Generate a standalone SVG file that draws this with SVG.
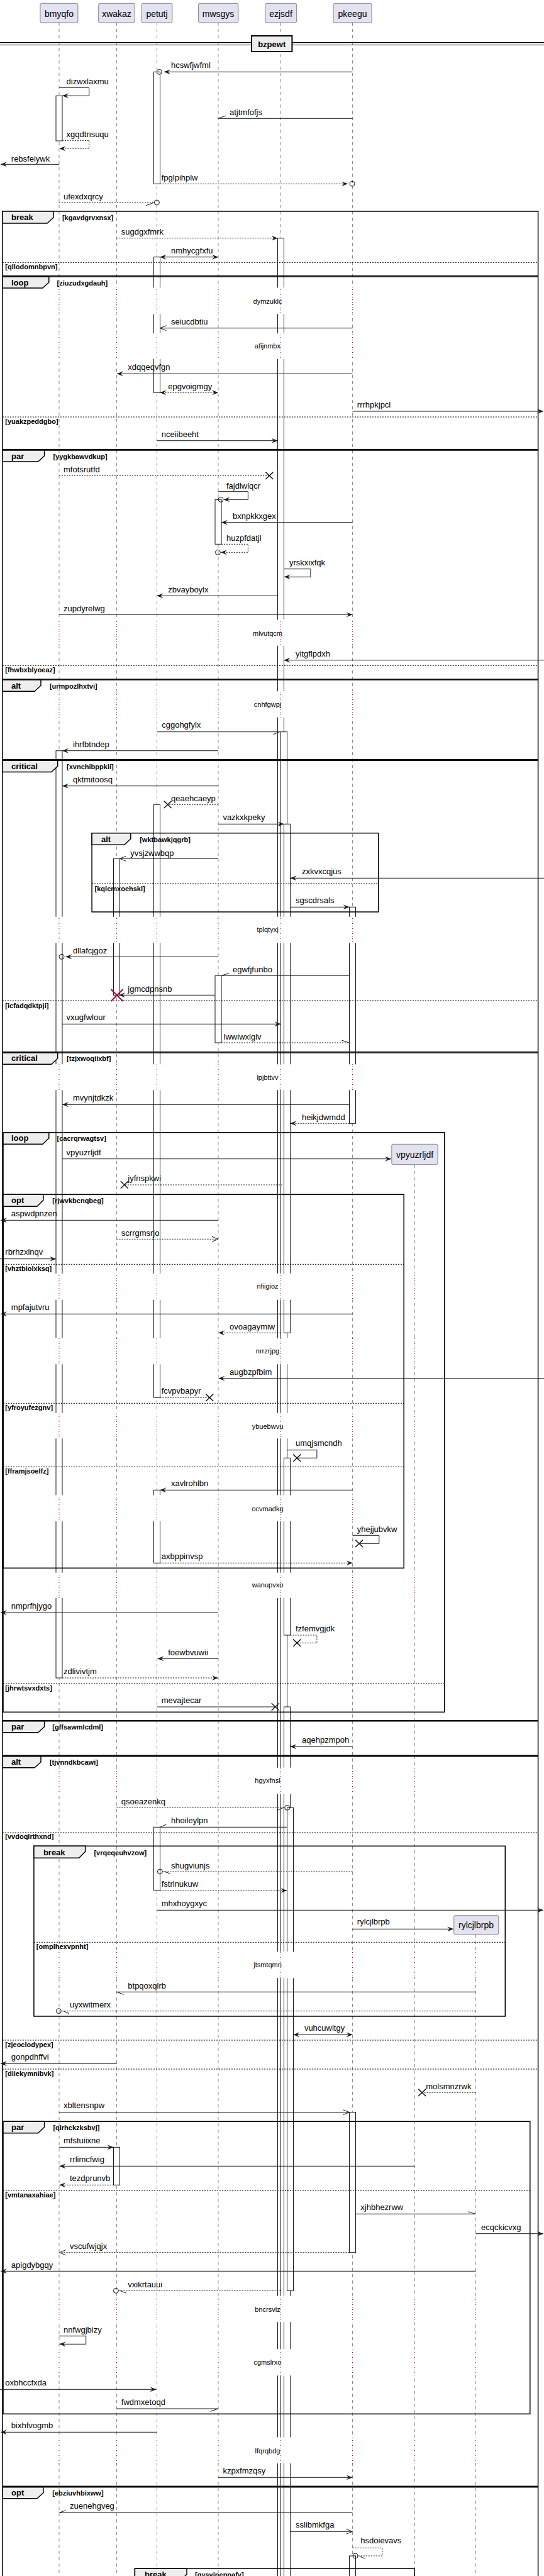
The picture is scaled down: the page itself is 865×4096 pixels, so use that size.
<svg xmlns="http://www.w3.org/2000/svg" width="865" height="4096" viewBox="0 0 865 4096">
<defs>
<style>
.ll{stroke:#181818;stroke-width:0.5;stroke-dasharray:5,5;fill:none}
.dl{stroke:#A80036;stroke-width:1;stroke-dasharray:1,3;fill:none}
.act{fill:#fff;stroke:#181818;stroke-width:1}
.m{stroke:#181818;stroke-width:1;fill:none}
.d{stroke-dasharray:2,2}
.c{fill:none;stroke:#181818;stroke-width:1}
.t{font-family:"Liberation Sans",Arial,sans-serif;font-size:13px;fill:#000}
.pt{font-family:"Liberation Sans",Arial,sans-serif;font-size:14px;fill:#000;text-anchor:middle}
.dt{font-family:"Liberation Sans",Arial,sans-serif;font-size:11px;fill:#000;text-anchor:middle}
.g{font-family:"Liberation Sans",Arial,sans-serif;font-size:11px;font-weight:bold;fill:#000}
.tl{font-family:"Liberation Sans",Arial,sans-serif;font-size:13px;font-weight:bold;fill:#000}
.fr{fill:none;stroke:#000;stroke-width:1.5}
.tab{fill:#EEEEEE;stroke:#000;stroke-width:1.5}
.el{stroke:#000;stroke-width:1;stroke-dasharray:2,2}
.pb{fill:#E2E2F0;stroke:#181818;stroke-width:0.5}
</style>
<marker id="af" viewBox="0 0 10 8" refX="10" refY="4" markerWidth="10" markerHeight="8" markerUnits="userSpaceOnUse" orient="auto-start-reverse"><path d="M0,0 L10,4 L0,8 L4,4 Z" fill="#181818"/></marker>
<marker id="ao" viewBox="-1 -1 12 10" refX="10" refY="4" markerWidth="12" markerHeight="10" markerUnits="userSpaceOnUse" orient="auto"><path d="M0,0 L10,4 L0,8" fill="none" stroke="#181818" stroke-width="1"/></marker>
<path id="xm" d="M-6,-5.7L6,5.7M-6,5.7L6,-5.7" stroke="#181818" stroke-width="1.5" fill="none"/>
<clipPath id="bands">
<rect x="0" y="457.3" width="865" height="42"/>
<rect x="0" y="530" width="865" height="41"/>
<rect x="0" y="985.3" width="865" height="41.4"/>
<rect x="0" y="1099.3" width="865" height="41.4"/>
<rect x="0" y="1457.7" width="865" height="41.6"/>
<rect x="0" y="1692.3" width="865" height="41"/>
<rect x="0" y="2025" width="865" height="41.7"/>
<rect x="0" y="2127.7" width="865" height="41.6"/>
<rect x="0" y="2246.7" width="865" height="40.6"/>
<rect x="0" y="2377.3" width="865" height="41.7"/>
<rect x="0" y="2500.7" width="865" height="40.3"/>
<rect x="0" y="2810.7" width="865" height="41.6"/>
<rect x="0" y="3103.3" width="865" height="42"/>
<rect x="0" y="3650.7" width="865" height="41.6"/>
<rect x="0" y="3735" width="865" height="42.3"/>
<rect x="0" y="3875.3" width="865" height="41.7"/>
</clipPath>
</defs>

<g id="lifelines" class="ll">
<line x1="94" y1="36" x2="94" y2="4096"/>
<line x1="185.5" y1="36" x2="185.5" y2="4096"/>
<line x1="249.5" y1="36" x2="249.5" y2="4096"/>
<line x1="347" y1="36" x2="347" y2="4096"/>
<line x1="446.5" y1="36" x2="446.5" y2="4096"/>
<line x1="560.5" y1="36" x2="560.5" y2="4096"/>
<line x1="659.5" y1="1852" x2="659.5" y2="4096"/>
<line x1="756.5" y1="3076" x2="756.5" y2="4096"/>
</g>

<g id="activations" class="act">
<rect x="89" y="152.3" width="10" height="71.7"/>
<rect x="89" y="1193.7" width="10" height="1474.3"/>
<rect x="180.5" y="1365.3" width="10" height="217"/>
<rect x="180.5" y="3414.3" width="10" height="60"/>
<rect x="244.5" y="114.3" width="10" height="178"/>
<rect x="244.5" y="408.7" width="10" height="215.6"/>
<rect x="244.5" y="1279.3" width="10" height="943"/>
<rect x="244.5" y="2369.3" width="10" height="116"/>
<rect x="244.5" y="2905.3" width="10" height="100.7"/>
<rect x="342" y="794.3" width="10" height="71"/>
<rect x="342" y="1551.3" width="10" height="106.7"/>
<rect x="441.5" y="378.7" width="10" height="3730"/>
<rect x="446.5" y="1163.7" width="10" height="2945"/>
<rect x="451.5" y="1310.3" width="10" height="809"/>
<rect x="451.5" y="2318.3" width="10" height="281.7"/>
<rect x="451.5" y="2714" width="10" height="1395"/>
<rect x="456.5" y="2874.3" width="10" height="768"/>
<rect x="555.5" y="1442.3" width="10" height="344"/>
<rect x="555.5" y="3358.7" width="10" height="223"/>
<rect x="555.5" y="4064" width="10" height="45"/>
</g>

<g id="delay-bands" fill="#fff">
<rect x="0" y="457.3" width="865" height="42"/>
<rect x="0" y="530" width="865" height="41"/>
<rect x="0" y="985.3" width="865" height="41.4"/>
<rect x="0" y="1099.3" width="865" height="41.4"/>
<rect x="0" y="1457.7" width="865" height="41.6"/>
<rect x="0" y="1692.3" width="865" height="41"/>
<rect x="0" y="2025" width="865" height="41.7"/>
<rect x="0" y="2127.7" width="865" height="41.6"/>
<rect x="0" y="2246.7" width="865" height="40.6"/>
<rect x="0" y="2377.3" width="865" height="41.7"/>
<rect x="0" y="2500.7" width="865" height="40.3"/>
<rect x="0" y="2810.7" width="865" height="41.6"/>
<rect x="0" y="3103.3" width="865" height="42"/>
<rect x="0" y="3650.7" width="865" height="41.6"/>
<rect x="0" y="3735" width="865" height="42.3"/>
<rect x="0" y="3875.3" width="865" height="41.7"/>
</g>
<g id="delay-lifelines" class="dl" clip-path="url(#bands)">
<line x1="94" y1="36" x2="94" y2="4096"/>
<line x1="185.5" y1="36" x2="185.5" y2="4096"/>
<line x1="249.5" y1="36" x2="249.5" y2="4096"/>
<line x1="347" y1="36" x2="347" y2="4096"/>
<line x1="446.5" y1="36" x2="446.5" y2="4096"/>
<line x1="560.5" y1="36" x2="560.5" y2="4096"/>
<line x1="659.5" y1="1852" x2="659.5" y2="4096"/>
<line x1="756.5" y1="3076" x2="756.5" y2="4096"/>
</g>

<g id="frames">
<g id="f-break1">
<rect class="fr" x="3.9" y="336" width="851.7" height="102.7"/>
<path class="tab" d="M3.9,336H85V346L75,355H3.9Z"/>
<text class="tl" x="18" y="350">break</text>
<text class="g" x="98.9" y="350">[kgavdgrvxnsx]</text>
<line class="el" x1="3.9" y1="417.3" x2="855.6" y2="417.3"/>
<text class="g" x="8.3" y="428.3">[qllodomnbpvn]</text>
</g>
<g id="f-loop1">
<rect class="fr" x="3.9" y="440" width="851.7" height="274.7"/>
<path class="tab" d="M3.9,440H77.8V449L67.8,458H3.9Z"/>
<text class="tl" x="18" y="453.5">loop</text>
<text class="g" x="90.6" y="453.5">[ziuzudxgdauh]</text>
<line class="el" x1="3.9" y1="663" x2="855.6" y2="663"/>
<text class="g" x="8.3" y="674">[yuakzpeddgbo]</text>
</g>
<g id="f-par1">
<rect class="fr" x="3.9" y="716" width="851.7" height="364"/>
<path class="tab" d="M3.9,716H70.6V725L60.6,734H3.9Z"/>
<text class="tl" x="18" y="729.5">par</text>
<text class="g" x="84.4" y="729.5">[yygkbawvdkup]</text>
<line class="el" x1="3.9" y1="1058.3" x2="855.6" y2="1058.3"/>
<text class="g" x="8.3" y="1069.3">[fhwbxblyoeaz]</text>
</g>
<g id="f-alt1">
<rect class="fr" x="3.9" y="1081" width="851.7" height="126.7"/>
<path class="tab" d="M3.9,1081H65V1090L55,1099.3H3.9Z"/>
<text class="tl" x="18" y="1094.5">alt</text>
<text class="g" x="78.9" y="1094.5">[urmpozlhxtvi]</text>
</g>
<g id="f-critical1">
<rect class="fr" x="3.9" y="1209.3" width="851.7" height="463.4"/>
<path class="tab" d="M3.9,1209.3H91.7V1218.3L81.7,1227.5H3.9Z"/>
<text class="tl" x="18" y="1222.5">critical</text>
<text class="g" x="106.1" y="1222.5">[xvnchibppkii]</text>
<line class="el" x1="3.9" y1="1591" x2="855.6" y2="1591"/>
<text class="g" x="8.3" y="1602.7">[icfadqdktpji]</text>
</g>
<g id="f-alt2">
<rect class="fr" x="146.1" y="1324.7" width="455.6" height="125.3"/>
<path class="tab" d="M146.1,1324.7H207.8V1333.7L197.8,1343.3H146.1Z"/>
<text class="tl" x="161" y="1338.5">alt</text>
<text class="g" x="222.2" y="1338.5">[wktbawkjqgrb]</text>
<line class="el" x1="146.1" y1="1405" x2="601.7" y2="1405"/>
<text class="g" x="150.6" y="1416.7">[kqlcmxoehskl]</text>
</g>
<g id="f-critical2">
<rect class="fr" x="3.9" y="1674" width="851.7" height="1061.7"/>
<path class="tab" d="M3.9,1674H91.7V1683L81.7,1692.3H3.9Z"/>
<text class="tl" x="18" y="1687">critical</text>
<text class="g" x="106.1" y="1687">[tzjxwoqiixbf]</text>
</g>
<g id="f-loop2">
<rect class="fr" x="5" y="1800.7" width="701.7" height="921.6"/>
<path class="tab" d="M5,1800.7H77.8V1809.7L67.8,1819.3H5Z"/>
<text class="tl" x="18" y="1814.3">loop</text>
<text class="g" x="90.6" y="1814.3">[cacrqrwagtsv]</text>
<line class="el" x1="5" y1="2677" x2="706.7" y2="2677"/>
<text class="g" x="8.3" y="2688.3">[jhrwtsvxdxts]</text>
</g>
<g id="f-opt1">
<rect class="fr" x="5" y="1899.3" width="637.2" height="594"/>
<path class="tab" d="M5,1899.3H68.9V1908.3L58.9,1918.3H5Z"/>
<text class="tl" x="18" y="1913">opt</text>
<text class="g" x="83.3" y="1913">[rjwvkbcnqbeg]</text>
<line class="el" x1="5" y1="2010.3" x2="642.2" y2="2010.3"/>
<text class="g" x="8.3" y="2021">[vhztbiolxksq]</text>
<line class="el" x1="5" y1="2231.3" x2="642.2" y2="2231.3"/>
<text class="g" x="8.3" y="2242.3">[yfroyufezgnv]</text>
<line class="el" x1="5" y1="2332.3" x2="642.2" y2="2332.3"/>
<text class="g" x="8.3" y="2343.3">[fframjsoelfz]</text>
</g>
<g id="f-par2">
<rect class="fr" x="3.9" y="2736.7" width="851.7" height="54.6"/>
<path class="tab" d="M3.9,2736.7H70.6V2745.7L60.6,2754.7H3.9Z"/>
<text class="tl" x="18" y="2750">par</text>
<text class="g" x="83.3" y="2750">[gffsawmlcdml]</text>
</g>
<g id="f-alt3">
<rect class="fr" x="3.9" y="2792.7" width="851.7" height="1160.6"/>
<path class="tab" d="M3.9,2792.7H65V2801.7L55,2810.7H3.9Z"/>
<text class="tl" x="18" y="2806">alt</text>
<text class="g" x="78.9" y="2806">[tjvnndkbcawi]</text>
<line class="el" x1="3.9" y1="2914" x2="855.6" y2="2914"/>
<text class="g" x="8.3" y="2924.3">[vvdoqlrthxnd]</text>
<line class="el" x1="3.9" y1="3244" x2="855.6" y2="3244"/>
<text class="g" x="8.3" y="3255">[zjeoclodypex]</text>
<line class="el" x1="3.9" y1="3290" x2="855.6" y2="3290"/>
<text class="g" x="8.3" y="3300.7">[diiekymnibvk]</text>
</g>
<g id="f-break2">
<rect class="fr" x="53.9" y="2935.3" width="749.4" height="270.7"/>
<path class="tab" d="M53.9,2935.3H135.6V2944.3L125.6,2954.3H53.9Z"/>
<text class="tl" x="68.9" y="2949.5">break</text>
<text class="g" x="149.4" y="2949.5">[vrqeqeuhvzow]</text>
<line class="el" x1="53.9" y1="3088.3" x2="803.3" y2="3088.3"/>
<text class="g" x="57.8" y="3099">[omplhexvpnht]</text>
</g>
<g id="f-par3">
<rect class="fr" x="5" y="3373.3" width="837.8" height="465"/>
<path class="tab" d="M5,3373.3H70.6V3382.3L60.6,3391.7H5Z"/>
<text class="tl" x="18" y="3387">par</text>
<text class="g" x="84.4" y="3387">[qlrhckzksbvj]</text>
<line class="el" x1="5" y1="3483.3" x2="842.8" y2="3483.3"/>
<text class="g" x="8.3" y="3494.3">[vmtanaxahiae]</text>
</g>
<g id="f-opt2">
<rect class="fr" x="3.9" y="3954.7" width="851.7" height="170"/>
<path class="tab" d="M3.9,3954.7H68.9V3963.7L58.9,3972.7H3.9Z"/>
<text class="tl" x="18" y="3968">opt</text>
<text class="g" x="83.3" y="3968">[ebziuvhbixww]</text>
</g>
<g id="f-break3">
<rect class="fr" x="214.4" y="4084.3" width="444.5" height="50"/>
<path class="tab" d="M214.4,4084.3H297V4093.3L287,4103H214.4Z"/>
<text class="tl" x="230" y="4098">break</text>
<text class="g" x="310" y="4098">[gysvjneppafy]</text>
</g>
</g>

<g id="divider-bzpewt">
<line x1="0" y1="67.7" x2="865" y2="67.7" stroke="#000" stroke-width="1.2"/>
<line x1="0" y1="71.5" x2="865" y2="71.5" stroke="#000" stroke-width="1.2"/>
<rect x="400" y="57" width="64.4" height="25" fill="#EEEEEE" stroke="#000" stroke-width="2"/>
<text class="tl" x="432.2" y="74.5" text-anchor="middle">bzpewt</text>
</g>

<g id="p-bmyqfo"><rect class="pb" x="63.9" y="5.3" width="60" height="30.7" rx="2.5"/><text class="pt" x="94" y="26.5">bmyqfo</text></g>
<g id="p-xwakaz"><rect class="pb" x="156.7" y="5.3" width="57.7" height="30.7" rx="2.5"/><text class="pt" x="185.5" y="26.5">xwakaz</text></g>
<g id="p-petutj"><rect class="pb" x="225" y="5.3" width="48.9" height="30.7" rx="2.5"/><text class="pt" x="249.5" y="26.5">petutj</text></g>
<g id="p-mwsgys"><rect class="pb" x="315.6" y="5.3" width="63.3" height="30.7" rx="2.5"/><text class="pt" x="347" y="26.5">mwsgys</text></g>
<g id="p-ezjsdf"><rect class="pb" x="421.7" y="5.3" width="50" height="30.7" rx="2.5"/><text class="pt" x="446.5" y="26.5">ezjsdf</text></g>
<g id="p-pkeegu"><rect class="pb" x="530" y="5.3" width="61.1" height="30.7" rx="2.5"/><text class="pt" x="560.5" y="26.5">pkeegu</text></g>
<g id="p-vpyuzrljdf"><rect class="pb" x="622.8" y="1819.3" width="73.3" height="32.4" rx="2.5"/><text class="pt" x="659.5" y="1840.5">vpyuzrljdf</text></g>
<g id="p-rylcjlbrpb"><rect class="pb" x="721.7" y="3045.7" width="71.1" height="30.3" rx="2.5"/><text class="pt" x="757" y="3066">rylcjlbrpb</text></g>

<g id="connectors">
<path class="m" d="M560.5,114.3H261" marker-end="url(#af)"/><circle class="c" cx="253.3" cy="114.3" r="4"/>
<path class="m" d="M94,139.3H141.7V152.3H99" marker-end="url(#af)"/>
<path class="m" d="M560.5,188.3H347M347,188.3L359,184"/>
<path class="m d" d="M99,223.3H141.7V236.3H94.5" marker-end="url(#af)"/>
<path class="m" d="M94,261.3H1" marker-end="url(#af)"/>
<path class="m d" d="M254.5,292.3H552.8" marker-end="url(#af)"/><circle class="c" cx="560" cy="292.3" r="4"/>
<path class="m d" d="M94,322H245.4"/><path class="m" d="M232.2,326.7L244.4,322.3"/><circle class="c" cx="249.4" cy="322" r="4"/>
<path class="m d" d="M185.5,378.7H441.5" marker-end="url(#af)"/>
<path class="m" d="M254.5,408.7H347" marker-start="url(#af)" marker-end="url(#af)"/>
<path class="m" d="M560.5,521.7H254.5" marker-end="url(#ao)"/>
<path class="m" d="M560.5,594.3H186" marker-end="url(#af)"/>
<path class="m d" d="M254.5,624.3H347" marker-start="url(#af)" marker-end="url(#af)"/>
<path class="m" d="M560.5,654H864" marker-end="url(#af)"/>
<path class="m" d="M249.5,700.7H441.5" marker-end="url(#af)"/>
<path class="m d" d="M94,756.3H428.3"/><use href="#xm" x="428.3" y="756.3"/>
<path class="m" d="M347,781.7H394.4V794.3H355.6" marker-end="url(#af)"/><circle class="c" cx="351" cy="794.3" r="4"/>
<path class="m" d="M560.5,830.7H352" marker-end="url(#af)"/>
<path class="m d" d="M352,865.3H394.4V878.3H351" marker-end="url(#af)"/><circle class="c" cx="346.4" cy="878.3" r="4"/>
<path class="m" d="M451.5,904.7H493.9V917.3H452" marker-end="url(#af)"/>
<path class="m" d="M441.5,947.3H249.5" marker-end="url(#af)"/>
<path class="m" d="M94,977.3H560.5" marker-end="url(#af)"/>
<path class="m" d="M865,1049.7H451.5" marker-end="url(#af)"/>
<path class="m" d="M249.5,1163.7H446.5M434.4,1167.7L444.4,1163.7"/>
<path class="m" d="M347,1193.7H99" marker-end="url(#af)"/>
<path class="m" d="M347,1249.7H99" marker-end="url(#af)"/>
<path class="m d" d="M347,1279.3H266.7"/><use href="#xm" x="266.7" y="1279.3"/>
<path class="m" d="M347,1310.3H451.5" marker-end="url(#af)"/>
<path class="m" d="M347,1365.3H190.5" marker-end="url(#ao)"/>
<path class="m" d="M865,1396.3H461.5" marker-end="url(#af)"/>
<path class="m" d="M461.5,1442.3H555.5" marker-end="url(#af)"/>
<path class="m" d="M347,1521.3H104.5" marker-end="url(#af)"/><circle class="c" cx="98" cy="1521.3" r="4"/>
<path class="m" d="M555.5,1551.3H352.2M352.2,1551.3L363.9,1547.5"/>
<path class="m" d="M342,1582.3H189" marker-end="url(#af)"/>
<path d="M176.5,1573L195.5,1592M176.5,1592L195.5,1573" stroke="#A80036" stroke-width="2" fill="none"/>
<path class="m" d="M99,1628.3H446.5" marker-end="url(#af)"/>
<path class="m d" d="M352,1658H555.5"/><path class="m" d="M543,1654L555,1658"/>
<path class="m" d="M555.5,1756.3H99" marker-end="url(#af)"/>
<path class="m d" d="M555.5,1786.3H461.5" marker-end="url(#af)"/>
<path class="m" d="M99,1842.7H622" marker-end="url(#af)"/>
<path class="m d" d="M448.9,1884H197.8"/><use href="#xm" x="197.8" y="1884"/>
<path class="m" d="M347,1940.3H1" marker-end="url(#af)"/>
<path class="m d" d="M185.5,1970.3H347" marker-end="url(#ao)"/>
<path class="m" d="M0,2001.7H89" marker-end="url(#af)"/>
<path class="m" d="M560.5,2089.3H1" marker-end="url(#af)"/>
<path class="m d" d="M446.5,2119.3H347.5" marker-end="url(#af)"/>
<path class="m" d="M865,2191.7H347.5" marker-end="url(#af)"/>
<path class="m d" d="M254.5,2222.3H333.3"/><use href="#xm" x="333.3" y="2222.3"/>
<path class="m" d="M456.5,2305.7H503.9V2318.3H472.2"/><use href="#xm" x="472.2" y="2318.3"/>
<path class="m" d="M560.5,2369.3H254.5" marker-end="url(#af)"/>
<path class="m" d="M560.5,2441.3H602.8V2454.3H571.1"/><use href="#xm" x="571.1" y="2454.3"/>
<path class="m d" d="M254.5,2485.3H560.5" marker-end="url(#af)"/>
<path class="m" d="M347,2564.3H1" marker-end="url(#af)"/>
<path class="m d" d="M461.5,2600H503.9V2612.3H472.2"/><use href="#xm" x="472.2" y="2612.3"/>
<path class="m" d="M347,2637.3H250.5" marker-end="url(#af)"/>
<path class="m d" d="M99,2668H347" marker-end="url(#af)"/>
<path class="m" d="M249.5,2714H437.8"/><use href="#xm" x="437.8" y="2714"/>
<path class="m" d="M560.5,2777.3H461.5" marker-end="url(#af)"/>
<path class="m d" d="M185.5,2874.3H452.7"/><path class="m" d="M440,2878.7L450,2874.5"/><circle class="c" cx="456.7" cy="2874.3" r="4"/>
<path class="m" d="M456.5,2905.3H254.5M254.5,2905.3L264.4,2901"/>
<path class="m d" d="M560.5,2976H258.4"/><path class="m" d="M261,2976L271,2979.3"/><circle class="c" cx="254.4" cy="2976" r="4"/>
<path class="m d" d="M254.5,3006H456" marker-end="url(#af)"/>
<path class="m" d="M249.5,3037.3H864" marker-end="url(#af)"/>
<path class="m" d="M560.5,3067.3H721" marker-end="url(#af)"/>
<path class="m" d="M756.5,3167.3H185.5M185.6,3167.3L196.7,3171.3"/>
<path class="m d" d="M756.5,3197.7H97.3"/><path class="m" d="M101,3197.7L110,3201.7"/><circle class="c" cx="93.3" cy="3197.7" r="4"/>
<path class="m" d="M466.5,3235.3H560.5" marker-start="url(#af)" marker-end="url(#af)"/>
<path class="m" d="M185.5,3281.3H1" marker-end="url(#af)"/>
<path class="m d" d="M756.5,3327.3H671.1"/><use href="#xm" x="671.1" y="3327.3"/>
<path class="m" d="M94,3358.7H555.5" marker-end="url(#ao)"/>
<path class="m" d="M94,3414.3H180.5" marker-end="url(#af)"/>
<path class="m" d="M659.5,3444.3H94.5" marker-end="url(#af)"/>
<path class="m d" d="M180.5,3474.3H94.5" marker-end="url(#af)"/>
<path class="m" d="M565.5,3520.3H755.6M744.4,3516.7L755.6,3520.3"/>
<path class="m" d="M756.5,3551.7H864" marker-end="url(#af)"/>
<path class="m d" d="M555.5,3581.7H94.5" marker-end="url(#ao)"/>
<path class="m" d="M756.5,3611.3H1" marker-end="url(#af)"/>
<path class="m d" d="M446.5,3642.3H188.4"/><path class="m" d="M190.6,3642.3L201,3646.3"/><circle class="c" cx="184.4" cy="3642.3" r="4"/>
<path class="m" d="M94,3714.3H136.7V3727.3H94.5" marker-end="url(#af)"/>
<path class="m" d="M0,3799.3H248.5" marker-end="url(#af)"/>
<path class="m" d="M185.5,3830H347M334.4,3834.3L347,3830"/>
<path class="m" d="M249.5,3867.3H1" marker-end="url(#af)"/>
<path class="m" d="M347,3939.3H560.5" marker-end="url(#af)"/>
<path class="m" d="M560.5,3995.3H94.5M94.5,3995.3L104.4,3991.7"/>
<path class="m" d="M461.5,4025.3H560.5" marker-end="url(#ao)"/>
<path class="m d" d="M560.5,4051.3H607.8V4064H569"/><path class="m" d="M572,4065L580.6,4068.3"/><circle class="c" cx="565" cy="4064" r="4"/>
</g>

<g id="labels" class="t">
<text x="272" y="108">hcswfjwfml</text>
<text x="105.6" y="133.7">dizwxlaxmu</text>
<text x="365" y="182.7">atjtmfofjs</text>
<text x="105.6" y="218.3">xgqdtnsuqu</text>
<text x="17.8" y="256.7">rebsfeiywk</text>
<text x="256.7" y="286.7">fpglpihplw</text>
<text x="101" y="316.7">ufexdxqrcy</text>
<text x="192.8" y="372.7">sugdgxfmrk</text>
<text x="272" y="403.3">nmhycgfxfu</text>
<text x="272" y="516">seiucdbtiu</text>
<text x="203.3" y="588.3">xdqqeqvfgn</text>
<text x="267.2" y="619.3">epgvoigmgy</text>
<text x="567.8" y="648.3">rrrhpkjpcl</text>
<text x="256.7" y="694.7">nceiibeeht</text>
<text x="101" y="750.7">mfotsrutfd</text>
<text x="360" y="776.7">fajdlwlqcr</text>
<text x="370" y="825">bxnpkkxgex</text>
<text x="360" y="860">huzpfdatjl</text>
<text x="460" y="898.7">yrskxixfqk</text>
<text x="267.2" y="942">zbvayboylx</text>
<text x="101" y="971.7">zupdyrelwg</text>
<text x="470" y="1044">yitgflpdxh</text>
<text x="257.2" y="1157.3">cggohgfylx</text>
<text x="116" y="1187.7">ihrfbtndep</text>
<text x="116" y="1244">qktmitoosq</text>
<text x="272" y="1274">qeaehcaeyp</text>
<text x="354.4" y="1304.3">vazkxkpeky</text>
<text x="207.2" y="1360.7">yvsjzwwbqp</text>
<text x="480" y="1390">zxkvxcqjus</text>
<text x="470" y="1436">sgscdrsals</text>
<text x="116" y="1515.7">dllafcjgoz</text>
<text x="370" y="1545.7">egwfjfunbo</text>
<text x="203.3" y="1576.7">jgmcdpnsnb</text>
<text x="105.6" y="1622.3">vxugfwlour</text>
<text x="355.6" y="1652.7">lwwiwxlglv</text>
<text x="116" y="1750">mvynjtdkzk</text>
<text x="480" y="1781">heikjdwmdd</text>
<text x="105.6" y="1836.7">vpyuzrljdf</text>
<text x="203.3" y="1878.3">jyfnspkwi</text>
<text x="17.8" y="1934.3">aspwdpnzen</text>
<text x="192.8" y="1965">scrrgmsrjo</text>
<text x="8.3" y="1995">rbrhzxlnqv</text>
<text x="17.8" y="2083.3">mpfajutvru</text>
<text x="365" y="2114">ovoagaymiw</text>
<text x="365" y="2185.7">augbzpfbim</text>
<text x="256.7" y="2216">fcvpvbapyr</text>
<text x="470" y="2299.3">umqjsmcndh</text>
<text x="272" y="2363.3">xavlrohlbn</text>
<text x="567.8" y="2435.7">yhejjubvkw</text>
<text x="256.7" y="2479.3">axbppinvsp</text>
<text x="17.8" y="2558.3">nmprfhjygo</text>
<text x="470" y="2594">fzfemvgjdk</text>
<text x="267.2" y="2631.7">foewbvuwii</text>
<text x="101" y="2662">zdlivivtjm</text>
<text x="256.7" y="2708.3">mevajtecar</text>
<text x="480" y="2771">aqehpzmpoh</text>
<text x="192.8" y="2868.7">qsoeazenkq</text>
<text x="272" y="2899.3">hhoileylpn</text>
<text x="272" y="2971">shugviunjs</text>
<text x="256.7" y="3000">fstrlnukuw</text>
<text x="256.7" y="3031.3">mhxhoygxyc</text>
<text x="567.8" y="3060">rylcjlbrpb</text>
<text x="203.3" y="3161.7">btpqoxqlrb</text>
<text x="111" y="3191.7">uyxwitmerx</text>
<text x="483.9" y="3229.3">vuhcuwltgy</text>
<text x="17.8" y="3275.3">gonpdhffvi</text>
<text x="677.2" y="3321.7">molsmnzrwk</text>
<text x="101" y="3352">xbltensnpw</text>
<text x="101" y="3408.3">mfstuiixne</text>
<text x="111" y="3438.3">rrlimcfwig</text>
<text x="111" y="3468.3">tezdprunvb</text>
<text x="573.3" y="3514.3">xjhbhezrww</text>
<text x="765" y="3545.7">ecqckicvxg</text>
<text x="111" y="3575.7">vscufwjqjx</text>
<text x="17.8" y="3605.7">apigdybgqy</text>
<text x="203.3" y="3636.7">vxikrtauui</text>
<text x="101" y="3708.7">nnfwgjbizy</text>
<text x="8.3" y="3793.3">oxbhccfxda</text>
<text x="192.8" y="3824">fwdmxetoqd</text>
<text x="17.8" y="3861.3">bixhfvogmb</text>
<text x="354.4" y="3933.3">kzpxfmzqsy</text>
<text x="111" y="3989.3">zuenehgveg</text>
<text x="470" y="4019.3">sslibmkfga</text>
<text x="573.3" y="4044.3">hsdoievavs</text>
</g>

<g id="delays" class="dt">
<text x="425.5" y="482.7">dymzuklc</text>
<text x="425.5" y="554.3">afijnmbx</text>
<text x="425.5" y="1010.7">mlvutqcm</text>
<text x="425.5" y="1124">cnhfgwpj</text>
<text x="425.5" y="1482">tplqtyxj</text>
<text x="425.5" y="1717.3">lpjbttvv</text>
<text x="425.5" y="2049.3">nfiigioz</text>
<text x="425.5" y="2152.3">nrrzrjpg</text>
<text x="425.5" y="2271.7">ybuebwvu</text>
<text x="425.5" y="2402.7">ocvmadkg</text>
<text x="425.5" y="2524.3">wanupvxo</text>
<text x="425.5" y="2835.3">hgyxfnsl</text>
<text x="425.5" y="3128.3">jtsmtqmn</text>
<text x="425.5" y="3675.7">bncrsvlz</text>
<text x="425.5" y="3760">cgmslrxo</text>
<text x="425.5" y="3901">lfqrqbdg</text>
</g>
</svg>
